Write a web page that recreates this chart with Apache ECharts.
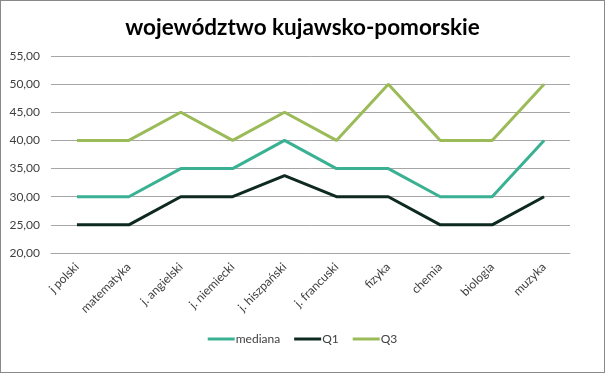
<!DOCTYPE html>
<html><head><meta charset="utf-8">
<script src="https://cdn.jsdelivr.net/npm/echarts@6/dist/echarts.min.js"></script>
<style>
html,body{margin:0;padding:0;background:#fff;}
#c{width:605px;height:373px;box-sizing:border-box;border:1px solid #898989;}
</style></head>
<body><div id="c"></div>
<script>
const categories = ["j polski","matematyka","j. angielski","j. niemiecki","j. hiszpański","j. francuski","fizyka","chemia","biologia","muzyka"];
const mediana = [30,30,35,35,40,35,35,30,30,40];
const q1 = [25,25,30,30,33.75,30,30,25,25,30];
const q3 = [40,40,45,40,45,40,50,40,40,50];
const yTicks = {min:20,max:55,interval:5};

const chart = echarts.init(document.getElementById('c'), null, {renderer:'canvas'});
const font = "Lato, sans-serif";
chart.setOption({
  animation:false,
  title:{text:'województwo kujawsko-pomorskie',left:'center',top:10,
    textStyle:{fontFamily:font,fontSize:22.5,fontWeight:'bold',color:'#000'}},
  legend:{bottom:22,left:'center',itemWidth:27,itemHeight:3,itemGap:14,icon:'rect',
    textStyle:{fontFamily:font,fontSize:12,color:'#404040',padding:[0,0,0,-4]},
    data:['mediana','Q1','Q3']},
  grid:{left:50,right:34,top:55,bottom:119,containLabel:false},
  xAxis:{type:'category',data:categories,boundaryGap:true,
    axisLine:{lineStyle:{color:'#A6A6A6'}},axisTick:{show:false},
    axisLabel:{rotate:45,fontFamily:font,fontSize:12,color:'#404040',interval:0,margin:12}},
  yAxis:{type:'value',min:yTicks.min,max:yTicks.max,interval:yTicks.interval,
    axisLine:{show:false},axisTick:{show:false},
    splitLine:{lineStyle:{color:'#A6A6A6',width:1}},
    axisLabel:{fontFamily:font,fontSize:12,color:'#404040',margin:11,
      formatter:v=>v.toFixed(2).replace('.',',')}},
  series:[
    {name:'mediana',type:'line',data:mediana,symbol:'none',lineStyle:{color:'#3AB193',width:3},itemStyle:{color:'#3AB193'}},
    {name:'Q1',type:'line',data:q1,symbol:'none',lineStyle:{color:'#0E2A20',width:3},itemStyle:{color:'#0E2A20'}},
    {name:'Q3',type:'line',data:q3,symbol:'none',lineStyle:{color:'#9BBB59',width:3},itemStyle:{color:'#9BBB59'}}
  ]
});
</script></body></html>
